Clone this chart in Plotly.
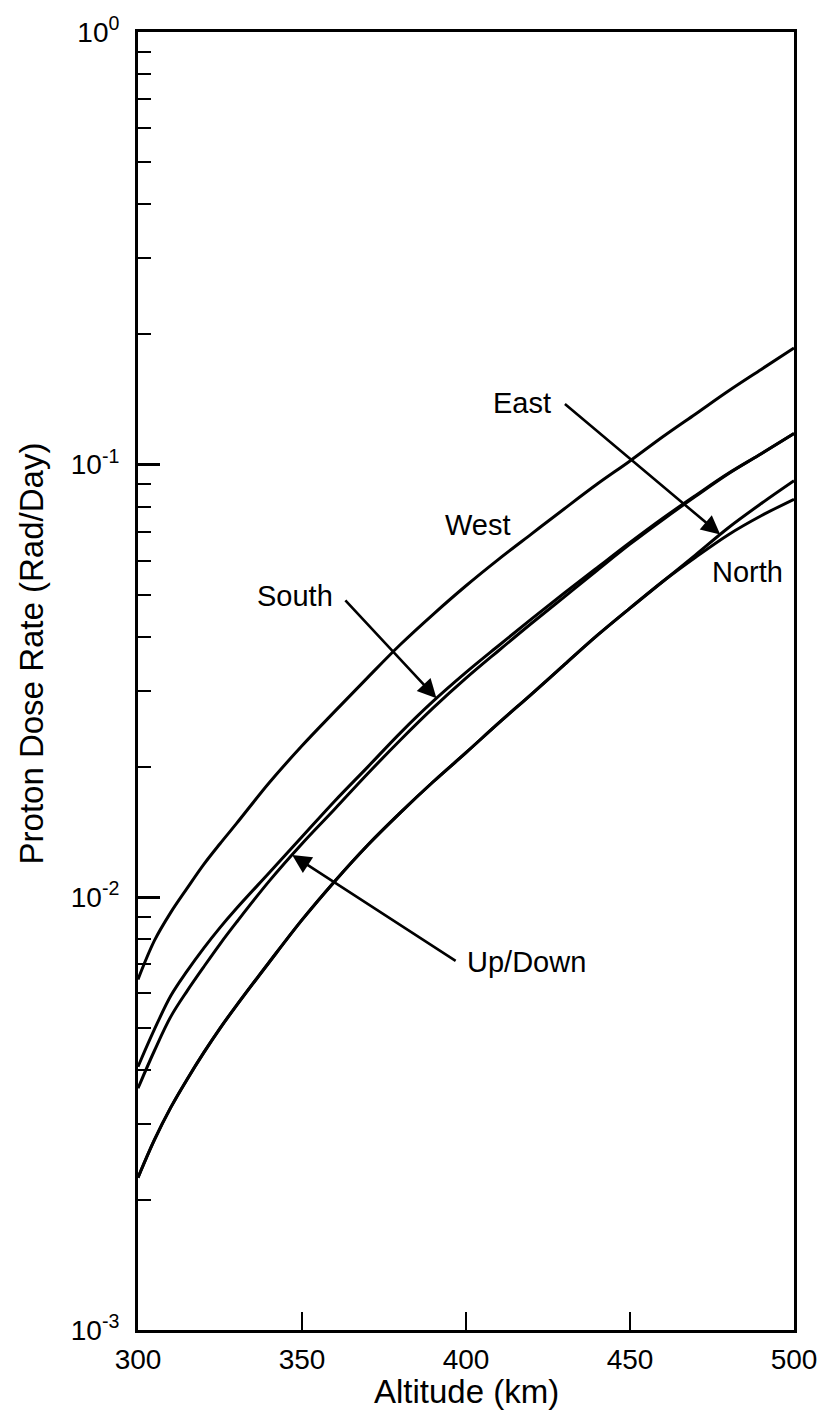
import numpy as np
import plotly.graph_objects as go

# Altitude grid (km) and proton dose rate (rad/day) per look direction
altitude = [300, 305, 310, 315, 320, 325, 330, 340, 350, 360, 370, 380, 390,
            400, 410, 420, 430, 440, 450, 460, 470, 480, 490, 500]

west = [0.00646, 0.00794, 0.00923, 0.0105, 0.0119, 0.0133, 0.0148, 0.0184,
        0.0224, 0.0269, 0.0322, 0.0384, 0.0451, 0.0525, 0.0605, 0.0692,
        0.0791, 0.0902, 0.102, 0.116, 0.131, 0.148, 0.166, 0.186]

south = [0.00406, 0.00495, 0.00592, 0.00676, 0.00762, 0.00851, 0.00942,
         0.0114, 0.0138, 0.0167, 0.0200, 0.0240, 0.0284, 0.0331, 0.0382,
         0.0440, 0.0505, 0.0578, 0.0661, 0.0752, 0.0849, 0.0955, 0.106, 0.118]

up_down = [0.00362, 0.00442, 0.00530, 0.00608, 0.00690, 0.00780, 0.00875,
           0.0109, 0.0133, 0.0160, 0.0193, 0.0231, 0.0274, 0.0321, 0.0372,
           0.0430, 0.0495, 0.0570, 0.0655, 0.0746, 0.0845, 0.0953, 0.106, 0.118]

east = [0.00225, 0.00275, 0.00327, 0.00380, 0.00437, 0.00498, 0.00562,
        0.00708, 0.00887, 0.0109, 0.0132, 0.0157, 0.0185, 0.0216, 0.0253,
        0.0295, 0.0345, 0.0403, 0.0466, 0.0537, 0.0619, 0.0715, 0.0813, 0.0918]

north = [0.00225, 0.00275, 0.00327, 0.00380, 0.00437, 0.00498, 0.00562,
         0.00708, 0.00887, 0.0109, 0.0132, 0.0157, 0.0185, 0.0216, 0.0253,
         0.0295, 0.0345, 0.0403, 0.0466, 0.0537, 0.0611, 0.0689, 0.0762, 0.0832]

x_ticks = [300, 350, 400, 450, 500]
y_ticks = [1e-3, 1e-2, 1e-1, 1]
y_ticktext = ["10<sup>-3</sup>", "10<sup>-2</sup>", "10<sup>-1</sup>", "10<sup>0</sup>"]
y_minor = [m * 10.0 ** e for e in (-3, -2, -1) for m in range(2, 10)]

FONT = "Liberation Sans, Arial, Helvetica, sans-serif"
INK = "black"

fig = go.Figure()
for name, vals in [("West", west), ("South", south), ("Up/Down", up_down),
                   ("East", east), ("North", north)]:
    fig.add_trace(go.Scatter(
        x=altitude, y=vals, mode="lines", name=name,
        line=dict(color=INK, width=3, shape="spline", smoothing=1.0),
        showlegend=False, hoverinfo="skip"))


def on_curve(alt, vals):
    """log10 dose on a curve at a given altitude (for arrow tips)."""
    return float(np.interp(alt, altitude, np.log10(vals)))


labels = [
    ("East", 417.1, -0.857),
    ("West", 403.8, -1.140),
    ("North", 485.9, -1.248),
    ("South", 348.0, -1.303),
    ("Up/Down", 418.3, -2.149),
]
annotations = []
for text, ax_, ay_ in labels:
    annotations.append(dict(x=ax_, y=ay_, xref="x", yref="y", text=text,
                            xanchor="center", yanchor="middle",
                            showarrow=False, font=dict(family=FONT, size=29, color=INK)))

# pointer arrows: (tail altitude, tail log10 dose, tip altitude, curve)
arrows = [
    (429.7, -0.857, 477.5, east),
    (362.8, -1.310, 391.0, south),
    (397.3, -2.149, 347.0, up_down),
]
for tx, ty, hx, curve in arrows:
    annotations.append(dict(
        x=hx, y=on_curve(hx, curve), xref="x", yref="y",
        ax=tx, ay=ty, axref="x", ayref="y", text="",
        showarrow=True, arrowhead=2, arrowsize=1.45, arrowwidth=2.6,
        arrowcolor=INK, standoff=0, startstandoff=0))

# axis titles
annotations.append(dict(x=0.5, y=-0.0475, xref="paper", yref="paper",
                        xanchor="center", yanchor="middle",
                        text="Altitude (km)", showarrow=False,
                        font=dict(family=FONT, size=33, color=INK)))
annotations.append(dict(x=-0.162, y=0.521, xref="paper", yref="paper",
                        xanchor="center", yanchor="middle",
                        text="Proton Dose Rate (Rad/Day)", showarrow=False,
                        textangle=-90,
                        font=dict(family=FONT, size=33, color=INK)))

fig.update_layout(
    width=829, height=1420,
    margin=dict(l=138, r=25, t=25, b=90),
    paper_bgcolor="white", plot_bgcolor="white",
    font=dict(family=FONT, color=INK),
    annotations=annotations,
    xaxis=dict(
        range=[300, 500], tickvals=x_ticks, ticktext=[str(v) for v in x_ticks],
        ticks="inside", ticklen=18, tickwidth=2, tickcolor=INK,
        ticklabelstandoff=2,
        showline=True, linewidth=3, linecolor=INK, mirror=True,
        showgrid=False, zeroline=False,
        tickfont=dict(family=FONT, size=28, color=INK)),
    yaxis=dict(
        type="log", range=[-3, 0], tickvals=y_ticks, ticktext=y_ticktext,
        ticks="inside", ticklen=22, tickwidth=2.5, tickcolor=INK,
        ticklabelstandoff=10,
        minor=dict(tickvals=y_minor, ticks="inside", ticklen=13,
                   tickwidth=2, tickcolor=INK, showgrid=False),
        showline=True, linewidth=3, linecolor=INK, mirror=True,
        showgrid=False, zeroline=False,
        tickfont=dict(family=FONT, size=28, color=INK)),
)

fig.write_html("out.html")
